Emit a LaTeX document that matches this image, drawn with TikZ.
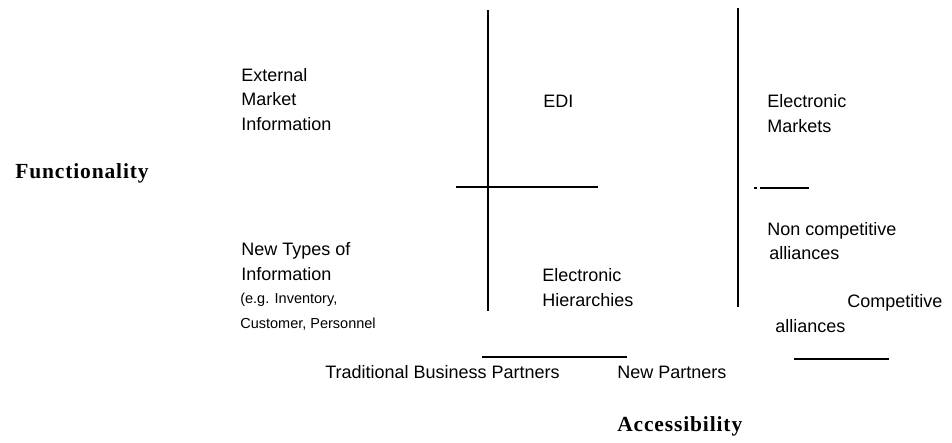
\documentclass[tikz,border=0pt]{standalone}
\usepackage{fontspec}
\setmainfont{Liberation Sans}
\newfontfamily\titlefont{Liberation Serif}[LetterSpace=4]
\usetikzlibrary{positioning}

\begin{document}
\begin{tikzpicture}[
            x = 1pt, y = -1pt, % pixel grid of the page
            semithick,
            label/.style = {anchor = base west, inner sep = 0pt, align = left,
                font = \fontsize{18}{24.5}\selectfont},
            small/.style = {label, font = \fontsize{14.5}{24.5}\selectfont},
            axis/.style = {anchor = base west, inner sep = 0pt,
                font = \titlefont\bfseries\fontsize{21.5}{26}\selectfont},
            rule/.style = {line width = 1.3pt},
            heavy/.style = {line width = 2.4pt}
        ]

        \useasboundingbox (0,0) rectangle (952,442);

	% axis titles (base anchor = last line)
        \node[axis] (F) at (15,178) {Functionality};
        \node[axis] (A) at (617,431) {Accessibility};

	% functionality levels
        \node[label] (ext) at (241,130) {External\\Market\\Information};
        \node[label] (new) at (241,280) {New Types of\\Information};
        \node[small] (eg) at (240,328) {(e.g. Inventory,\\Customer, Personnel};

	% cells
        \node[label] (EDI) at (543,107) {EDI};
        \node[label] (EM) at (767,132) {Electronic\\Markets};
        \node[label] (EH) at (542,306) {Electronic\\Hierarchies};
        \node[label] (NC) at (767,235) {Non competitive};
        \node[label] (NCa) at (769,259) {alliances};
        \node[label] (C) at (847,307) {Competitive};
        \node[label] (Ca) at (775,332) {alliances};

	% partners
        \node[label] (TBP) at (325,378) {Traditional Business Partners};
        \node[label] (NP) at (617,378) {New Partners};

	% grid lines
        \coordinate (v1t) at (488,10);
        \coordinate (v1b) at (488,311);
        \coordinate (v2t) at (738,8);
        \coordinate (v2m) at (738,190);
        \coordinate (v2b) at (738,307);

        \draw[rule] (v1t) -- (v1b);
        \draw[heavy] (488,298) -- (v1b);
        \draw[rule] (456,187) -- (598,187);
        \draw[rule] (v2t) -- (v2m);
        \draw[heavy] (v2m) -- (v2b);
        \draw[rule] (760,188) -- (809,188);
        \draw[rule] (754,188) -- (757,188);
        \draw[rule] (482,357) -- (627,357);
        \draw[rule] (794,359) -- (889,359);

  \end{tikzpicture}
\end{document}
